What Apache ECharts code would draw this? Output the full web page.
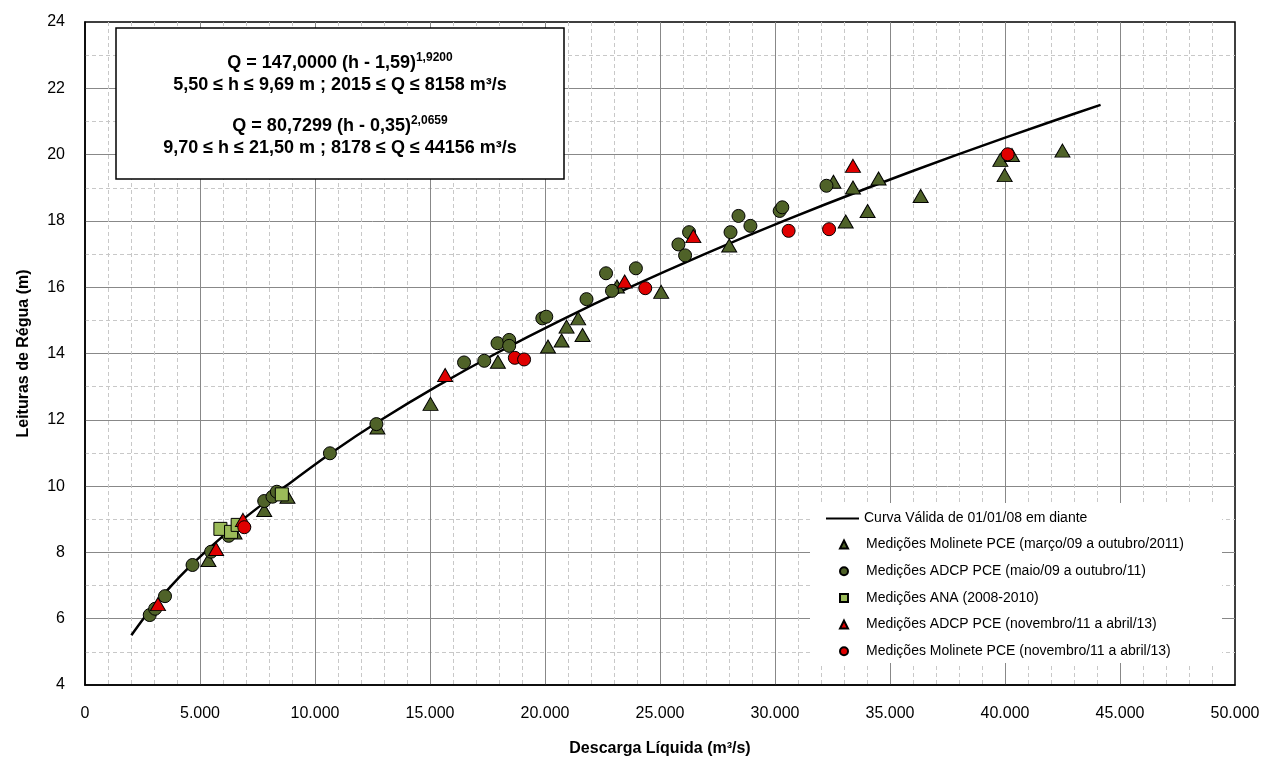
<!DOCTYPE html>
<html>
<head>
<meta charset="utf-8">
<script src="https://cdn.jsdelivr.net/npm/echarts@6/dist/echarts.min.js"></script>
<style>html,body{margin:0;padding:0;background:#fff}#c{width:1270px;height:765px}</style>
</head>
<body>
<div id="c"></div>
<script>
// Rating curve points (h in m, Q in m3/s)
const curveH = [5.5, 6, 6.5, 7, 7.5, 8, 8.5, 9, 9.5, 9.69, 9.7, 10, 11, 12, 13, 14, 15, 16, 17, 18, 19, 20, 21, 21.5];
const curveQ = [2015, 2539, 3120, 3759, 4454, 5205, 6012, 6877, 7797, 8158, 8178, 8730, 10702, 12881, 15270, 17869, 20680, 23702, 26937, 30386, 34052, 37931, 42027, 44156];

// [Q, h] measurements
const molinetePCE = [[5368,7.77],[6500,8.6],[7792,9.28],[8803,9.68],[12714,11.77],[15022,12.48],[17952,13.75],[20130,14.21],[20722,14.39],[20938,14.81],[21442,15.06],[21632,14.56],[23130,16.02],[25052,15.86],[28009,17.26],[32541,19.18],[33074,17.98],[33390,19.01],[34026,18.30],[34502,19.28],[36333,18.75],[39797,19.84],[40303,19.99],[39985,19.38],[42498,20.12]];
const adcpPCE = [[2814,6.11],[3050,6.3],[3478,6.68],[4675,7.62],[5483,8.02],[6247,8.50],[7792,9.55],[8152,9.68],[8340,9.83],[10649,10.99],[12670,11.87],[16480,13.73],[17359,13.78],[17936,14.31],[18442,14.41],[18442,14.23],[19883,15.06],[20056,15.11],[21805,15.64],[22654,16.42],[22913,15.89],[23952,16.57],[25801,17.29],[26091,16.96],[26264,17.66],[28066,17.66],[28413,18.15],[28931,17.85],[30203,18.30],[30318,18.41],[32238,19.06]];
const ana = [[5887,8.71],[6350,8.62],[6637,8.83],[8558,9.75]];
const adcpPCE2 = [[3173,6.44],[5700,8.10],[6868,8.98],[15658,13.35],[23463,16.17],[26450,17.54],[33390,19.66]];
const molinetePCE2 = [[6926,8.76],[18688,13.87],[19091,13.82],[24359,15.97],[30592,17.70],[32351,17.75],[40117,20.01]];

const seriesNames = [
  'Curva Válida de 01/01/08 em diante',
  'Medições Molinete PCE (março/09 a outubro/2011)',
  'Medições ADCP PCE (maio/09 a outubro/11)',
  'Medições ANA (2008-2010)',
  'Medições ADCP PCE (novembro/11 a abril/13)',
  'Medições Molinete PCE (novembro/11 a abril/13)'
];
const eqLines = [
  ['Q = 147,0000 (h - 1,59)', '1,9200'],
  ['5,50 ≤ h ≤ 9,69 m ; 2015 ≤ Q ≤ 8158 m³/s', ''],
  ['Q = 80,7299 (h - 0,35)', '2,0659'],
  ['9,70 ≤ h ≤ 21,50 m ; 8178 ≤ Q ≤ 44156 m³/s', '']
];
const xName = 'Descarga Líquida (m³/s)';
const yName = 'Leituras de Régua (m)';

const FONT = '"Liberation Sans", Arial, sans-serif';
const dark = '#4F6228', light = '#9BBB59', red = '#E00000';

function fmt(v){ return String(v).replace(/\B(?=(\d{3})+(?!\d))/g, '.'); }

const chart = echarts.init(document.getElementById('c'), null, {renderer:'canvas'});

const eqY = [63, 85, 126, 148];
const eqGraphics = eqLines.map((l, i) => ({
  type: 'text', x: 340, y: eqY[i], z: 5,
  style: {
    text: l[1] ? '{a|' + l[0] + '}{s|' + l[1] + '}' : '{a|' + l[0] + '}',
    align: 'center', verticalAlign: 'middle',
    rich: {
      a: {fontSize: 18, fontWeight: 'bold', fontFamily: FONT, fill: '#000'},
      s: {fontSize: 12, fontWeight: 'bold', fontFamily: FONT, fill: '#000', padding: [0,0,10,0]}
    }
  }
}));

function sc(name, symbol, size, color, data){
  return {name: name, type: 'scatter', symbol: symbol, symbolSize: size, z: 3,
    itemStyle: {color: color, borderColor: '#000', borderWidth: 1, opacity: 1}, data: data};
}

chart.setOption({
  animation: false,
  backgroundColor: '#fff',
  grid: {left: 85, right: 35, top: 22, bottom: 80, show: true, borderColor: '#000', borderWidth: 1.5, backgroundColor: 'transparent'},
  xAxis: {
    type: 'value', min: 0, max: 50000, interval: 5000,
    name: xName, nameLocation: 'middle', nameGap: 56,
    nameTextStyle: {fontFamily: FONT, fontSize: 16, fontWeight: 'bold', color: '#000'},
    axisLine: {lineStyle: {color: '#000', width: 1.5}},
    axisTick: {show: false},
    axisLabel: {formatter: fmt, fontFamily: FONT, fontSize: 16, color: '#000', margin: 21},
    splitLine: {show: true, showMinLine: false, showMaxLine: false, lineStyle: {color: '#888', width: 1}},
    minorTick: {show: false, splitNumber: 5},
    minorSplitLine: {show: true, lineStyle: {color: '#c8c8c8', type: [4,3], width: 1}}
  },
  yAxis: {
    type: 'value', min: 4, max: 24, interval: 2,
    name: yName, nameLocation: 'middle', nameGap: 53,
    nameTextStyle: {fontFamily: FONT, fontSize: 16, fontWeight: 'bold', color: '#000'},
    axisLine: {show: true, lineStyle: {color: '#000', width: 1.5}},
    axisTick: {show: false},
    axisLabel: {fontFamily: FONT, fontSize: 16, color: '#000', margin: 20},
    splitLine: {show: true, showMinLine: false, showMaxLine: false, lineStyle: {color: '#888', width: 1}},
    minorTick: {show: false, splitNumber: 2},
    minorSplitLine: {show: true, lineStyle: {color: '#c8c8c8', type: [4,3], width: 1}}
  },
  legend: [
    {
      data: [{name: seriesNames[0], icon: 'rect'}], orient: 'vertical', left: 826, top: 510, padding: 0,
      itemWidth: 33, itemHeight: 2, itemGap: 4, z: 6,
      itemStyle: {color: '#000', borderWidth: 0},
      textStyle: {fontFamily: FONT, fontSize: 14, color: '#000', lineHeight: 17}
    },
    {
      data: seriesNames.slice(1), orient: 'vertical', left: 839, top: 536, padding: 0,
      itemWidth: 8, itemHeight: 8, itemGap: 9.7, z: 6,
      textStyle: {fontFamily: FONT, fontSize: 14, color: '#000', lineHeight: 17, padding: [0,0,0,13]}
    }
  ],
  graphic: [
    {type: 'rect', shape: {x: 810, y: 503, width: 412, height: 160}, style: {fill: '#fff'}, z: 3, silent: true},
    {type: 'rect', shape: {x: 116, y: 28, width: 448, height: 151}, style: {fill: '#fff', stroke: '#000', lineWidth: 1.5}, z: 4, silent: true}
  ].concat(eqGraphics),
  series: [
    {
      name: seriesNames[0], type: 'line', symbol: 'none', smooth: 0.3, z: 2,
      lineStyle: {color: '#000', width: 2.5}, itemStyle: {color: '#000'},
      data: curveQ.map((q, i) => [q, curveH[i]])
    },
    sc(seriesNames[1], 'triangle', [15, 13], dark, molinetePCE),
    sc(seriesNames[2], 'circle', 13, dark, adcpPCE),
    sc(seriesNames[3], 'rect', 13, light, ana),
    sc(seriesNames[4], 'triangle', [15, 13], red, adcpPCE2),
    sc(seriesNames[5], 'circle', 13, red, molinetePCE2)
  ]
});
</script>
</body>
</html>
